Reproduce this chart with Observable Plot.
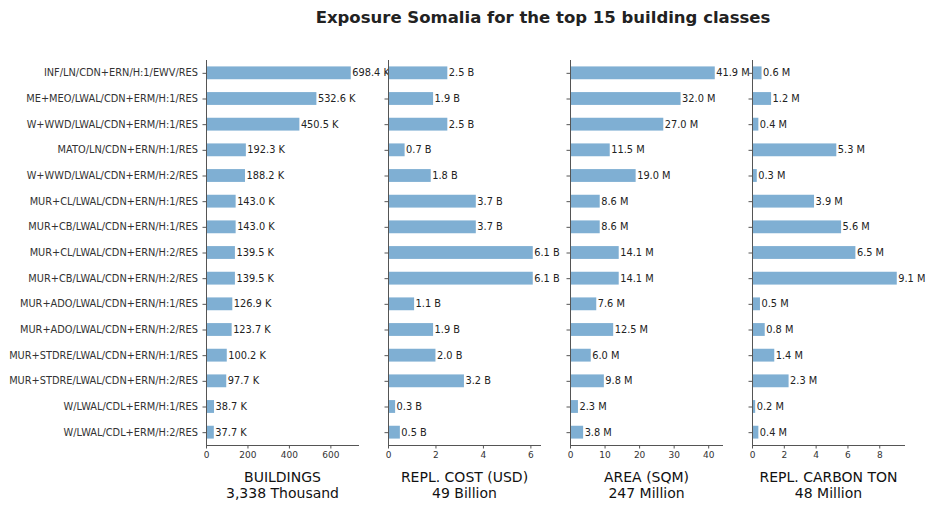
<!DOCTYPE html>
<html>
<head>
<meta charset="utf-8">
<script src="https://cdn.jsdelivr.net/npm/d3@7"></script>
<script src="https://cdn.jsdelivr.net/npm/@observablehq/plot@0.6"></script>
<style>
  body { margin: 0; background: #fff; font-family: "DejaVu Sans", sans-serif; }
  #fig { position: relative; width: 934px; height: 510px; }
  #title { position: absolute; top: 8px; left: 0; width: 1086px; text-align: center;
           font-size: 16.5px; font-weight: bold; color: #222; }
  .panel { position: absolute; top: 40px; }
  .panel svg { overflow: visible; }
</style>
</head>
<body>
<div id="fig">
  <div id="title">Exposure Somalia for the top 15 building classes</div>
</div>
<script>
// Top 15 building classes, in display order
const classes = [
  "INF/LN/CDN+ERN/H:1/EWV/RES",
  "ME+MEO/LWAL/CDN+ERM/H:1/RES",
  "W+WWD/LWAL/CDN+ERM/H:1/RES",
  "MATO/LN/CDN+ERN/H:1/RES",
  "W+WWD/LWAL/CDN+ERM/H:2/RES",
  "MUR+CL/LWAL/CDN+ERN/H:1/RES",
  "MUR+CB/LWAL/CDN+ERN/H:1/RES",
  "MUR+CL/LWAL/CDN+ERN/H:2/RES",
  "MUR+CB/LWAL/CDN+ERN/H:2/RES",
  "MUR+ADO/LWAL/CDN+ERN/H:1/RES",
  "MUR+ADO/LWAL/CDN+ERN/H:2/RES",
  "MUR+STDRE/LWAL/CDN+ERN/H:1/RES",
  "MUR+STDRE/LWAL/CDN+ERN/H:2/RES",
  "W/LWAL/CDL+ERM/H:1/RES",
  "W/LWAL/CDL+ERM/H:2/RES"
];

// Number of buildings (thousands)
const buildings = [698.4, 532.6, 450.5, 192.3, 188.2, 143.0, 143.0, 139.5, 139.5, 126.9, 123.7, 100.2, 97.7, 38.7, 37.7];
// Replacement cost (billion USD)
const replCost = [2.5, 1.9, 2.5, 0.7, 1.8, 3.7, 3.7, 6.1, 6.1, 1.1, 1.9, 2.0, 3.2, 0.3, 0.5];
// Built area (million sqm)
const area = [41.9, 32.0, 27.0, 11.5, 19.0, 8.6, 8.6, 14.1, 14.1, 7.6, 12.5, 6.0, 9.8, 2.3, 3.8];
// Replacement carbon (million tons)
const carbon = [0.6, 1.2, 0.4, 5.3, 0.3, 3.9, 5.6, 6.5, 9.1, 0.5, 0.8, 1.4, 2.3, 0.2, 0.4];

const panels = [
  {values: buildings, unit: "K", ticks: [0, 200, 400, 600], label: "BUILDINGS\n3,338 Thousand", left: 0, marginLeft: 206, showY: true},
  {values: replCost, unit: "B", ticks: [0, 2, 4, 6], label: "REPL. COST (USD)\n49 Billion", left: 380, marginLeft: 8, showY: false},
  {values: area, unit: "M", ticks: [0, 10, 20, 30, 40], label: "AREA (SQM)\n247 Million", left: 562, marginLeft: 8, showY: false},
  {values: carbon, unit: "M", ticks: [0, 2, 4, 6, 8], label: "REPL. CARBON TON\n48 Million", left: 744, marginLeft: 8, showY: false}
];

const barColor = "#7fafd3";
const spine = "#555";
const fig = document.getElementById("fig");

for (const p of panels) {
  const data = classes.map((c, i) => ({c, v: p.values[i]}));
  const xMax = d3.max(p.values) * 1.05;
  const plotW = 152;
  const chart = Plot.plot({
    width: p.marginLeft + plotW + 22,
    height: 470,
    marginTop: 20,
    marginBottom: 65,
    marginLeft: p.marginLeft,
    marginRight: 22,
    style: {fontFamily: "DejaVu Sans, sans-serif", fontSize: "9.8px", color: "#333", background: "transparent"},
    x: {domain: [0, xMax]},
    y: {domain: classes, paddingInner: 0.5, paddingOuter: 0.25, round: false},
    marks: [
      Plot.barX(data, {x: "v", y: "c", fill: barColor}),
      Plot.text(data, {
        x: "v", y: "c", text: d => `${d.v.toFixed(1)} ${p.unit}`,
        textAnchor: "start", dx: 1, fill: "#222", fontSize: 9.8
      }),
      Plot.axisX({ticks: p.ticks, tickFormat: d => String(d), tickSize: 3.5, tickPadding: 3, label: null, stroke: spine, fontSize: 9}),
      Plot.axisY({
        tickSize: 3.5, tickPadding: 5, label: null, stroke: spine, fontSize: 9.8,
        tickFormat: p.showY ? (d => d) : (() => "")
      }),
      Plot.ruleX([0], {stroke: spine, strokeWidth: 1}),
      Plot.frame({anchor: "bottom", stroke: spine, strokeWidth: 1}),
      Plot.text([p.label], {
        frameAnchor: "bottom", lineAnchor: "top", dy: 25,
        fontSize: 14, lineHeight: 1.15, fill: "#111", textAnchor: "middle"
      })
    ]
  });
  const div = document.createElement("div");
  div.className = "panel";
  div.style.left = p.left + "px";
  div.appendChild(chart);
  fig.appendChild(div);
}
</script>
</body>
</html>
